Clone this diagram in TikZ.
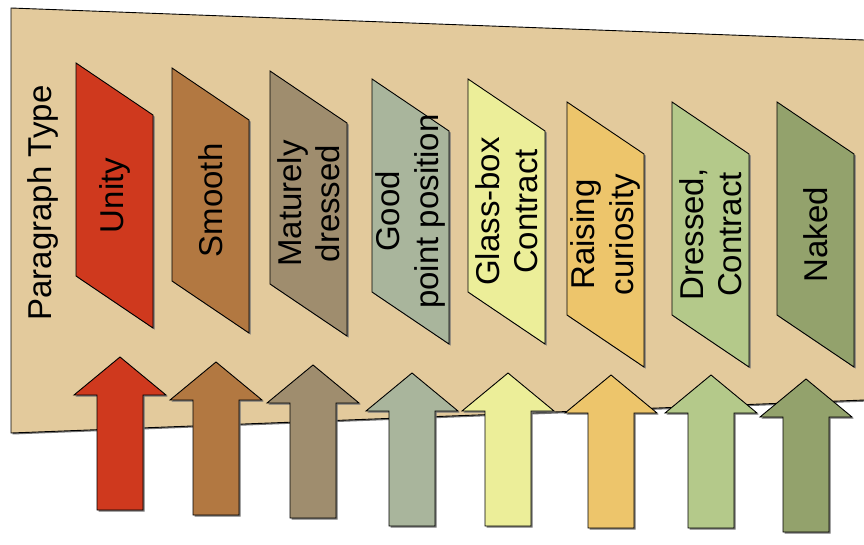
\documentclass[tikz,border=0pt]{standalone}
\usepackage{fontspec}
\setmainfont{Liberation Sans}
\definecolor{bgc}{HTML}{E3CA9C}
\definecolor{cUnity}{HTML}{CF391E}
\definecolor{cSmooth}{HTML}{B27841}
\definecolor{cMature}{HTML}{9F8D6E}
\definecolor{cGood}{HTML}{A9B59C}
\definecolor{cGlass}{HTML}{ECEE99}
\definecolor{cRaise}{HTML}{EDC56B}
\definecolor{cDress}{HTML}{B4C98A}
\definecolor{cNaked}{HTML}{93A26C}
\tikzset{
  shapeline/.style={draw=black, line width=0.9pt, line join=miter},
  shadowc/.style={fill=black!55},
  lbl/.style={rotate=90, align=center, inner sep=0pt, text=black,
    font=\fontsize{33}{38.5}\selectfont},
}
\newcommand{\parabox}[5]{%
  \fill[shadowc] ({#2+1.5},{#3+1.5}) -- ++(77,52) -- ++(0,213) -- ++(-77,-52) -- cycle;
  \draw[shapeline, fill=#4] (#2,#3) -- ++(77,52) -- ++(0,213) -- ++(-77,-52) -- cycle;
  \node[lbl] (#1) at ({#2+38.5},{#3+132.5}) {#5};
}
\newcommand{\blockarrow}[4]{%
  \begin{scope}[shift={(#2,#3)}]
  \fill[shadowc] (1.5,1.5) -- ++(46,38) -- ++(-23,0) -- ++(0,115) -- ++(-46,0) -- ++(0,-115) -- ++(-23,0) -- cycle;
  \draw[shapeline, fill=#4] (0,0) -- (46,38) -- (23,38) -- (23,153) -- (-23,153) -- (-23,38) -- (-46,38) -- cycle;
  \coordinate (#1) at (0,0);
  \end{scope}
}
\begin{document}
\begin{tikzpicture}[x=1pt,y=-1pt]
\useasboundingbox (0,0) rectangle (864,544);
\clip (0,0) rectangle (864,544);
% background panel
\fill[shadowc] (12.5,9.5) -- (882,42) -- (882,401) -- (12.5,434.5) -- cycle;
\draw[shapeline, fill=bgc] (11,8) -- (880,40.6) -- (880,399.4) -- (11,433) -- cycle;
\node[lbl] (title) at (42.5,203) {Paragraph Type};
% parallelograms
\parabox{unity}{76}{63}{cUnity}{Unity}
\parabox{smooth}{172}{68}{cSmooth}{Smooth}
\parabox{mature}{270}{71}{cMature}{Maturely\\dressed}
\parabox{good}{372}{79}{cGood}{Good\\point position}
\parabox{glass}{468}{79}{cGlass}{Glass-box\\Contract}
\parabox{raise}{567}{102}{cRaise}{Raising\\curiosity}
\parabox{dress}{672}{102}{cDress}{Dressed,\\Contract}
\parabox{naked}{777}{102}{cNaked}{Naked}
% block arrows
\blockarrow{aUnity}{120}{357}{cUnity}
\blockarrow{aSmooth}{216}{362}{cSmooth}
\blockarrow{aMature}{313}{365}{cMature}
\blockarrow{aGood}{412}{373}{cGood}
\blockarrow{aGlass}{508}{373}{cGlass}
\blockarrow{aRaise}{611}{375}{cRaise}
\blockarrow{aDress}{711}{375}{cDress}
\blockarrow{aNaked}{806}{379}{cNaked}
\end{tikzpicture}
\end{document}
